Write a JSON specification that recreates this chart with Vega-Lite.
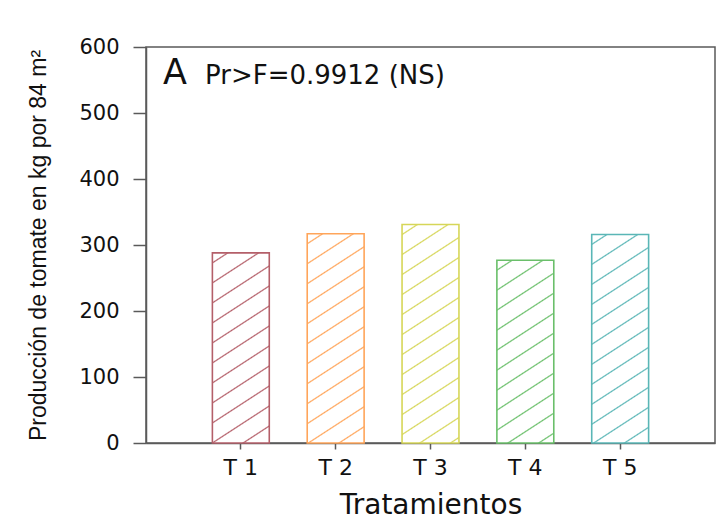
{
  "$schema": "https://vega.github.io/schema/vega-lite/v6.json",
  "autosize": "none",
  "width": 569,
  "height": 396,
  "padding": {"left": 146, "top": 47, "right": 10, "bottom": 76},
  "background": "white",
  "config": {
    "view": {"stroke": "#5a5a5a", "strokeWidth": 1.5},
    "axis": {"domainColor": "#5a5a5a", "tickColor": "#5a5a5a", "tickWidth": 1.5, "domainWidth": 1.5, "labelColor": "#111", "titleColor": "#111", "grid": false, "labelFont": "DejaVu Sans", "titleFontWeight": "normal"}
  },
  "resolve": {"scale": {"x": "independent"}, "axis": {"x": "independent"}},
  "layer": [
    {
      "data": {"values": [
        {"t": "T 1", "v": 288},
        {"t": "T 2", "v": 317},
        {"t": "T 3", "v": 331},
        {"t": "T 4", "v": 277},
        {"t": "T 5", "v": 316}
      ]},
      "mark": {"type": "bar", "strokeWidth": 1.6},
      "encoding": {
        "x": {"field": "t", "type": "nominal", "scale": {"paddingInner": 0.4, "paddingOuter": 0.7},
          "axis": {"title": "Tratamientos", "labelAngle": 0, "tickSize": 6, "labelPadding": 8, "labelFontSize": 22, "titleFont": "DejaVu Sans", "titleFontSize": 28, "titlePadding": 13}},
        "y": {"field": "v", "type": "quantitative", "scale": {"domain": [0, 600], "nice": false},
          "axis": {"title": "Producción de tomate en kg por 84 m²", "values": [0, 100, 200, 300, 400, 500, 600], "tickSize": 13, "labelPadding": 14, "labelFontSize": 21, "titleFont": "Liberation Sans", "titleFontSize": 23, "titlePadding": 28}},
        "stroke": {"field": "t", "type": "nominal", "legend": null,
          "scale": {"domain": ["T 1", "T 2", "T 3", "T 4", "T 5"], "range": ["#b45f69", "#ffa55a", "#d6d658", "#6abf6a", "#5ab6b6"]}},
        "fill": {
          "condition": [
            {"test": "datum.t === 'T 1'", "value": {"gradient": "linear", "x1": 0, "y1": 0, "x2": 0.2241, "y2": 1.1511, "stops": [
              {"offset": 0.0378, "color": "#ffffff"}, {"offset": 0.0440, "color": "#b45f69"}, {"offset": 0.0502, "color": "#ffffff"},
              {"offset": 0.1259, "color": "#ffffff"}, {"offset": 0.1321, "color": "#b45f69"}, {"offset": 0.1383, "color": "#ffffff"},
              {"offset": 0.2140, "color": "#ffffff"}, {"offset": 0.2202, "color": "#b45f69"}, {"offset": 0.2264, "color": "#ffffff"},
              {"offset": 0.3021, "color": "#ffffff"}, {"offset": 0.3083, "color": "#b45f69"}, {"offset": 0.3145, "color": "#ffffff"},
              {"offset": 0.3902, "color": "#ffffff"}, {"offset": 0.3964, "color": "#b45f69"}, {"offset": 0.4026, "color": "#ffffff"},
              {"offset": 0.4783, "color": "#ffffff"}, {"offset": 0.4845, "color": "#b45f69"}, {"offset": 0.4907, "color": "#ffffff"},
              {"offset": 0.5664, "color": "#ffffff"}, {"offset": 0.5726, "color": "#b45f69"}, {"offset": 0.5788, "color": "#ffffff"},
              {"offset": 0.6545, "color": "#ffffff"}, {"offset": 0.6607, "color": "#b45f69"}, {"offset": 0.6669, "color": "#ffffff"},
              {"offset": 0.7426, "color": "#ffffff"}, {"offset": 0.7488, "color": "#b45f69"}, {"offset": 0.7550, "color": "#ffffff"},
              {"offset": 0.8307, "color": "#ffffff"}, {"offset": 0.8369, "color": "#b45f69"}, {"offset": 0.8431, "color": "#ffffff"},
              {"offset": 0.9188, "color": "#ffffff"}, {"offset": 0.9250, "color": "#b45f69"}, {"offset": 0.9312, "color": "#ffffff"}
            ]}},
            {"test": "datum.t === 'T 2'", "value": {"gradient": "linear", "x1": 0, "y1": 0, "x2": 0.2019, "y2": 1.1412, "stops": [
              {"offset": 0.0349, "color": "#ffffff"}, {"offset": 0.0406, "color": "#ffa55a"}, {"offset": 0.0463, "color": "#ffffff"},
              {"offset": 0.1161, "color": "#ffffff"}, {"offset": 0.1218, "color": "#ffa55a"}, {"offset": 0.1275, "color": "#ffffff"},
              {"offset": 0.1973, "color": "#ffffff"}, {"offset": 0.2030, "color": "#ffa55a"}, {"offset": 0.2087, "color": "#ffffff"},
              {"offset": 0.2785, "color": "#ffffff"}, {"offset": 0.2842, "color": "#ffa55a"}, {"offset": 0.2899, "color": "#ffffff"},
              {"offset": 0.3597, "color": "#ffffff"}, {"offset": 0.3654, "color": "#ffa55a"}, {"offset": 0.3711, "color": "#ffffff"},
              {"offset": 0.4409, "color": "#ffffff"}, {"offset": 0.4466, "color": "#ffa55a"}, {"offset": 0.4523, "color": "#ffffff"},
              {"offset": 0.5221, "color": "#ffffff"}, {"offset": 0.5278, "color": "#ffa55a"}, {"offset": 0.5335, "color": "#ffffff"},
              {"offset": 0.6033, "color": "#ffffff"}, {"offset": 0.6090, "color": "#ffa55a"}, {"offset": 0.6147, "color": "#ffffff"},
              {"offset": 0.6845, "color": "#ffffff"}, {"offset": 0.6902, "color": "#ffa55a"}, {"offset": 0.6959, "color": "#ffffff"},
              {"offset": 0.7657, "color": "#ffffff"}, {"offset": 0.7714, "color": "#ffa55a"}, {"offset": 0.7771, "color": "#ffffff"},
              {"offset": 0.8469, "color": "#ffffff"}, {"offset": 0.8526, "color": "#ffa55a"}, {"offset": 0.8583, "color": "#ffffff"},
              {"offset": 0.9281, "color": "#ffffff"}, {"offset": 0.9338, "color": "#ffa55a"}, {"offset": 0.9395, "color": "#ffffff"}
            ]}},
            {"test": "datum.t === 'T 3'", "value": {"gradient": "linear", "x1": 0, "y1": 0, "x2": 0.1931, "y2": 1.1367, "stops": [
              {"offset": 0.0337, "color": "#ffffff"}, {"offset": 0.0392, "color": "#d6d658"}, {"offset": 0.0447, "color": "#ffffff"},
              {"offset": 0.1120, "color": "#ffffff"}, {"offset": 0.1175, "color": "#d6d658"}, {"offset": 0.1230, "color": "#ffffff"},
              {"offset": 0.1903, "color": "#ffffff"}, {"offset": 0.1958, "color": "#d6d658"}, {"offset": 0.2013, "color": "#ffffff"},
              {"offset": 0.2686, "color": "#ffffff"}, {"offset": 0.2741, "color": "#d6d658"}, {"offset": 0.2796, "color": "#ffffff"},
              {"offset": 0.3469, "color": "#ffffff"}, {"offset": 0.3524, "color": "#d6d658"}, {"offset": 0.3579, "color": "#ffffff"},
              {"offset": 0.4252, "color": "#ffffff"}, {"offset": 0.4307, "color": "#d6d658"}, {"offset": 0.4362, "color": "#ffffff"},
              {"offset": 0.5035, "color": "#ffffff"}, {"offset": 0.5090, "color": "#d6d658"}, {"offset": 0.5145, "color": "#ffffff"},
              {"offset": 0.5818, "color": "#ffffff"}, {"offset": 0.5873, "color": "#d6d658"}, {"offset": 0.5928, "color": "#ffffff"},
              {"offset": 0.6601, "color": "#ffffff"}, {"offset": 0.6656, "color": "#d6d658"}, {"offset": 0.6711, "color": "#ffffff"},
              {"offset": 0.7384, "color": "#ffffff"}, {"offset": 0.7439, "color": "#d6d658"}, {"offset": 0.7494, "color": "#ffffff"},
              {"offset": 0.8167, "color": "#ffffff"}, {"offset": 0.8222, "color": "#d6d658"}, {"offset": 0.8277, "color": "#ffffff"},
              {"offset": 0.8950, "color": "#ffffff"}, {"offset": 0.9005, "color": "#d6d658"}, {"offset": 0.9060, "color": "#ffffff"},
              {"offset": 0.9733, "color": "#ffffff"}, {"offset": 0.9788, "color": "#d6d658"}, {"offset": 0.9843, "color": "#ffffff"}
            ]}},
            {"test": "datum.t === 'T 4'", "value": {"gradient": "linear", "x1": 0, "y1": 0, "x2": 0.2338, "y2": 1.1550, "stops": [
              {"offset": 0.0391, "color": "#ffffff"}, {"offset": 0.0455, "color": "#6abf6a"}, {"offset": 0.0519, "color": "#ffffff"},
              {"offset": 0.1301, "color": "#ffffff"}, {"offset": 0.1365, "color": "#6abf6a"}, {"offset": 0.1429, "color": "#ffffff"},
              {"offset": 0.2211, "color": "#ffffff"}, {"offset": 0.2275, "color": "#6abf6a"}, {"offset": 0.2339, "color": "#ffffff"},
              {"offset": 0.3121, "color": "#ffffff"}, {"offset": 0.3185, "color": "#6abf6a"}, {"offset": 0.3249, "color": "#ffffff"},
              {"offset": 0.4031, "color": "#ffffff"}, {"offset": 0.4095, "color": "#6abf6a"}, {"offset": 0.4159, "color": "#ffffff"},
              {"offset": 0.4941, "color": "#ffffff"}, {"offset": 0.5005, "color": "#6abf6a"}, {"offset": 0.5069, "color": "#ffffff"},
              {"offset": 0.5851, "color": "#ffffff"}, {"offset": 0.5915, "color": "#6abf6a"}, {"offset": 0.5979, "color": "#ffffff"},
              {"offset": 0.6761, "color": "#ffffff"}, {"offset": 0.6825, "color": "#6abf6a"}, {"offset": 0.6889, "color": "#ffffff"},
              {"offset": 0.7671, "color": "#ffffff"}, {"offset": 0.7735, "color": "#6abf6a"}, {"offset": 0.7799, "color": "#ffffff"},
              {"offset": 0.8581, "color": "#ffffff"}, {"offset": 0.8645, "color": "#6abf6a"}, {"offset": 0.8709, "color": "#ffffff"},
              {"offset": 0.9491, "color": "#ffffff"}, {"offset": 0.9555, "color": "#6abf6a"}, {"offset": 0.9619, "color": "#ffffff"}
            ]}},
            {"test": "datum.t === 'T 5'", "value": {"gradient": "linear", "x1": 0, "y1": 0, "x2": 0.2025, "y2": 1.1414, "stops": [
              {"offset": 0.0350, "color": "#ffffff"}, {"offset": 0.0407, "color": "#5ab6b6"}, {"offset": 0.0464, "color": "#ffffff"},
              {"offset": 0.1164, "color": "#ffffff"}, {"offset": 0.1221, "color": "#5ab6b6"}, {"offset": 0.1278, "color": "#ffffff"},
              {"offset": 0.1978, "color": "#ffffff"}, {"offset": 0.2035, "color": "#5ab6b6"}, {"offset": 0.2092, "color": "#ffffff"},
              {"offset": 0.2792, "color": "#ffffff"}, {"offset": 0.2849, "color": "#5ab6b6"}, {"offset": 0.2906, "color": "#ffffff"},
              {"offset": 0.3606, "color": "#ffffff"}, {"offset": 0.3663, "color": "#5ab6b6"}, {"offset": 0.3720, "color": "#ffffff"},
              {"offset": 0.4420, "color": "#ffffff"}, {"offset": 0.4477, "color": "#5ab6b6"}, {"offset": 0.4534, "color": "#ffffff"},
              {"offset": 0.5234, "color": "#ffffff"}, {"offset": 0.5291, "color": "#5ab6b6"}, {"offset": 0.5348, "color": "#ffffff"},
              {"offset": 0.6048, "color": "#ffffff"}, {"offset": 0.6105, "color": "#5ab6b6"}, {"offset": 0.6162, "color": "#ffffff"},
              {"offset": 0.6862, "color": "#ffffff"}, {"offset": 0.6919, "color": "#5ab6b6"}, {"offset": 0.6976, "color": "#ffffff"},
              {"offset": 0.7676, "color": "#ffffff"}, {"offset": 0.7733, "color": "#5ab6b6"}, {"offset": 0.7790, "color": "#ffffff"},
              {"offset": 0.8490, "color": "#ffffff"}, {"offset": 0.8547, "color": "#5ab6b6"}, {"offset": 0.8604, "color": "#ffffff"},
              {"offset": 0.9304, "color": "#ffffff"}, {"offset": 0.9361, "color": "#5ab6b6"}, {"offset": 0.9418, "color": "#ffffff"}
            ]}}
          ],
          "value": "#ffffff"
        }
      }
    },
    {
      "data": {"values": [{}]},
      "mark": {"type": "text", "text": "A", "font": "DejaVu Sans", "fontSize": 35, "align": "left", "baseline": "alphabetic", "color": "#111"},
      "encoding": {
        "x": {"datum": 0.179, "type": "quantitative", "scale": {"domain": [0, 6], "nice": false}, "axis": null},
        "y": {"datum": 544, "type": "quantitative"}
      }
    },
    {
      "data": {"values": [{}]},
      "mark": {"type": "text", "text": "Pr>F=0.9912 (NS)", "font": "DejaVu Sans", "fontSize": 26, "align": "left", "baseline": "alphabetic", "color": "#111"},
      "encoding": {
        "x": {"datum": 0.622, "type": "quantitative", "scale": {"domain": [0, 6], "nice": false}, "axis": null},
        "y": {"datum": 544, "type": "quantitative"}
      }
    }
  ]
}
